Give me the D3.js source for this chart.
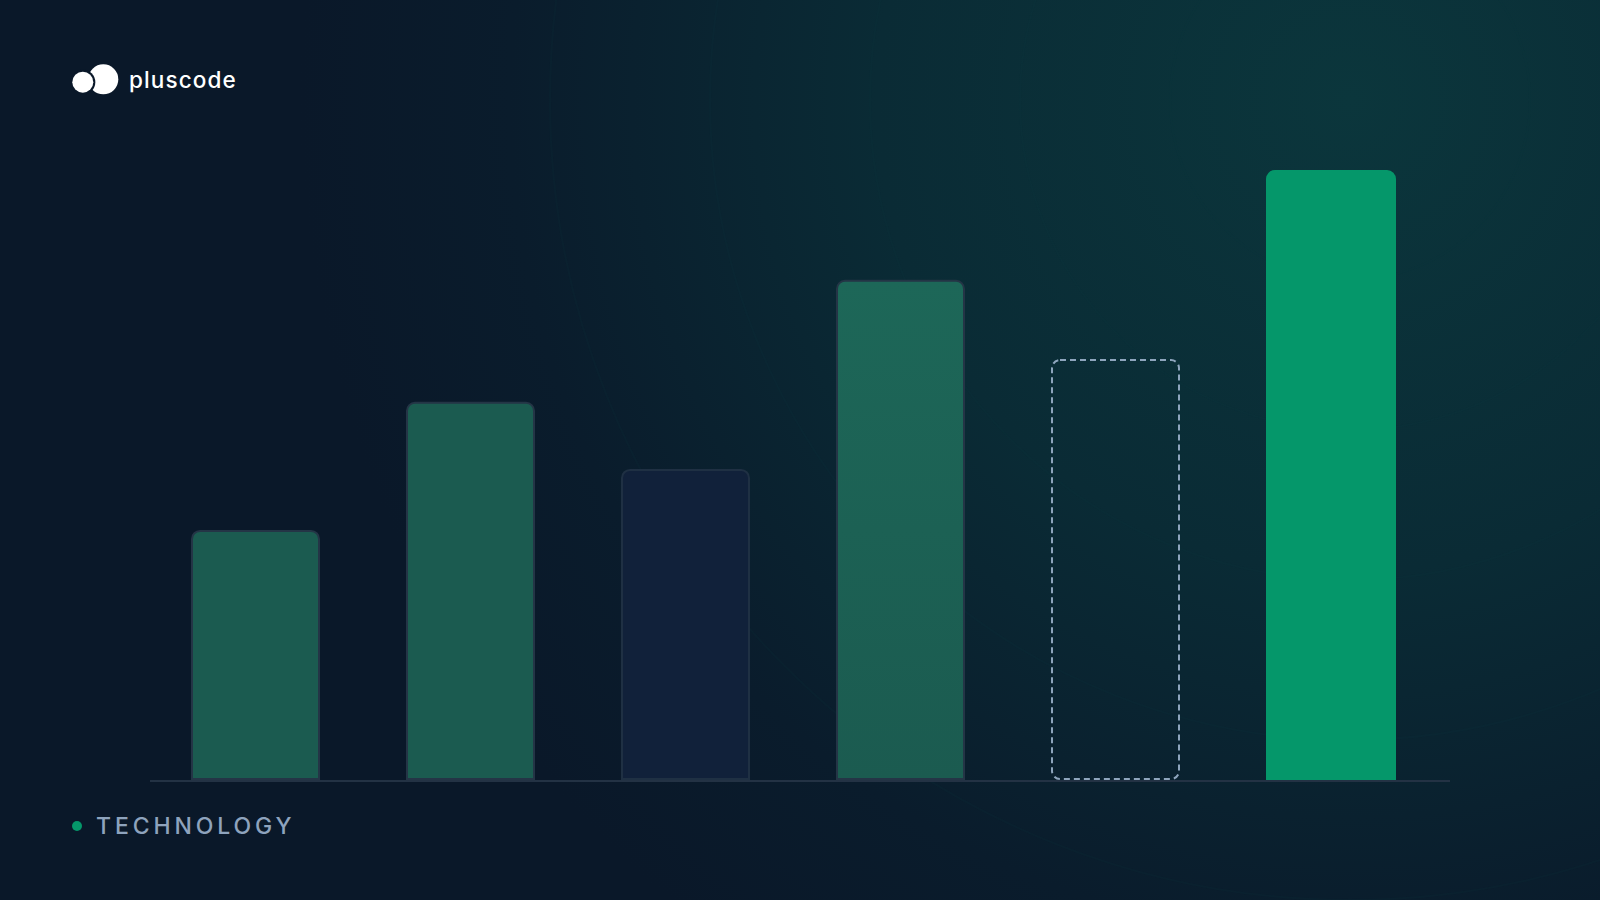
<!DOCTYPE html>
<html><head><meta charset="utf-8">
<script src="https://cdn.jsdelivr.net/npm/d3@7"></script>
<style>html,body{margin:0;padding:0;background:#0a1829;overflow:hidden}</style>
</head><body>
<svg id="chart" width="1600" height="900"></svg>
<script>
const categories = ["A","B","C","D","E","F"];
const values = [41, 62, 51, 82, 69, 100];
const styles = ["muted","muted","navy","muted-light","dashed","highlight"];
const label = "TECHNOLOGY";
const brand = "pluscode";

const svg = d3.select("#chart");
const defs = svg.append("defs");

const bg = defs.append("radialGradient").attr("id","bgGlow")
  .attr("gradientUnits","userSpaceOnUse").attr("cx",1350).attr("cy",100).attr("r",1050);
bg.append("stop").attr("offset","0").attr("stop-color","#0b363c");
bg.append("stop").attr("offset","0.45").attr("stop-color","#0a2b35");
bg.append("stop").attr("offset","0.8").attr("stop-color","#0a1c2c");
bg.append("stop").attr("offset","1").attr("stop-color","#0a1829");

const g4 = defs.append("linearGradient").attr("id","bar4").attr("x1",0).attr("y1",0).attr("x2",0).attr("y2",1);
g4.append("stop").attr("offset","0").attr("stop-color","#1d6758");
g4.append("stop").attr("offset","1").attr("stop-color","#1b5b50");

svg.append("rect").attr("width",1600).attr("height",900).attr("fill","#0a1829");
svg.append("rect").attr("width",1600).attr("height",900).attr("fill","url(#bgGlow)");

// faint rings
[180, 330, 480, 640, 800].forEach(r => {
  svg.append("circle").attr("cx",1350).attr("cy",100).attr("r",r)
    .attr("fill","none").attr("stroke","#0e3a40").attr("stroke-opacity",0.14).attr("stroke-width",2);
});

const x = d3.scaleBand().domain(categories).range([148, 1438]).paddingInner(0.4).paddingOuter(0.2);
const y = d3.scaleLinear().domain([0, 100]).range([780, 170]);

// baseline
svg.append("line").attr("x1",150).attr("x2",1450).attr("y1",781).attr("y2",781)
  .attr("stroke","#233244").attr("stroke-width",2);

const fills = {"muted":"#1b5b50","navy":"#11213a","muted-light":"url(#bar4)","dashed":"none","highlight":"#05976a"};
const strokes = {"muted":"#243546","navy":"#1f3043","muted-light":"#243546","dashed":"#8ea5bd","highlight":"none"};

function barPath(x0, y0, w, h, r) {
  const p = d3.path();
  p.moveTo(x0, y0 + h);
  p.lineTo(x0, y0 + r);
  p.arcTo(x0, y0, x0 + r, y0, r);
  p.lineTo(x0 + w - r, y0);
  p.arcTo(x0 + w, y0, x0 + w, y0 + r, r);
  p.lineTo(x0 + w, y0 + h);
  return p;
}

categories.forEach((c, i) => {
  const st = styles[i];
  const x0 = x(c), w = x.bandwidth();
  const top = y(values[i]), h = y(0) - y(values[i]);
  if (st === "dashed") {
    svg.append("rect").attr("x", x0 + 1).attr("y", top + 1).attr("width", w - 2).attr("height", h - 2)
      .attr("rx", 8).attr("fill", "none").attr("stroke", strokes[st]).attr("stroke-width", 2)
      .attr("stroke-dasharray", "6 4");
  } else if (st === "highlight") {
    const p = barPath(x0, top, w + 1, h, 9);
    p.closePath();
    svg.append("path").attr("d", p.toString()).attr("fill", fills[st]);
  } else {
    const p = barPath(x0 + 1, top + 1, w - 2, h - 2, 8);
    p.closePath();
    svg.append("path").attr("d", p.toString()).attr("fill", fills[st])
      .attr("stroke", strokes[st]).attr("stroke-width", 2);
  }
});

// logo
const logo = svg.append("g");
logo.append("circle").attr("cx",103.3).attr("cy",79.3).attr("r",15).attr("fill","#ffffff");
logo.append("circle").attr("cx",82.8).attr("cy",82.2).attr("r",12.5).attr("fill","#0a1829");
logo.append("circle").attr("cx",82.8).attr("cy",82.2).attr("r",10.5).attr("fill","#ffffff");
logo.append("text").attr("x",129).attr("y",88).text(brand)
  .attr("font-family","Inter, 'Noto Sans', sans-serif").attr("font-weight",500)
  .attr("font-size",22.5).attr("fill","#ffffff").attr("letter-spacing",1.1);

// label
svg.append("circle").attr("cx",77).attr("cy",826).attr("r",5).attr("fill","#05976a");
svg.append("text").attr("x",96).attr("y",834).text(label)
  .attr("font-family","Inter, 'Noto Sans', sans-serif").attr("font-weight",500)
  .attr("font-size",23).attr("letter-spacing",3.9).attr("fill","#8ea3bd");
</script>
</body></html>
